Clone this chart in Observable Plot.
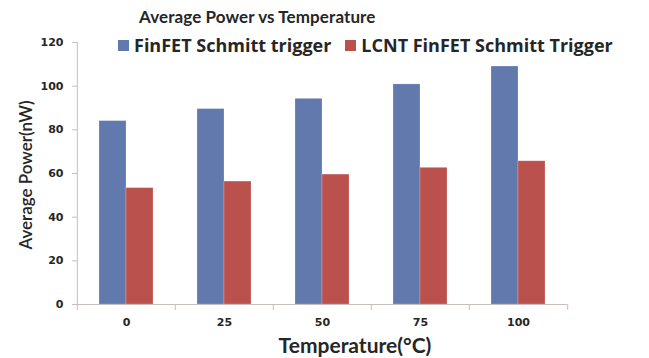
<!DOCTYPE html>
<html>
<head>
<meta charset="utf-8">
<script src="https://cdn.jsdelivr.net/npm/d3@7"></script>
<script src="https://cdn.jsdelivr.net/npm/@observablehq/plot@0.6"></script>
<style>
  html, body { margin: 0; padding: 0; background: #fff; }
  #fig { position: relative; width: 649px; height: 358px; overflow: hidden; font-family: Lato, "Open Sans", sans-serif; color: #262626; }
  #title { position: absolute; left: 139px; top: 6px; font-size: 17px; font-weight: bold; white-space: nowrap; letter-spacing: 0.1px; }
  #legend { position: absolute; left: 118px; top: 33px; display: flex; align-items: center; font-family: "Open Sans", Lato, sans-serif; font-size: 18px; font-weight: bold; white-space: nowrap; }
  #legend .item { display: flex; align-items: center; margin-right: 14px; }
  #legend .sw { width: 11px; height: 11px; margin-right: 5px; }
  #ylabel { position: absolute; left: 25px; top: 175px; transform: translate(-50%, -50%) rotate(-90deg); font-size: 17px; font-weight: 600; white-space: nowrap; }
  #xlabel { position: absolute; left: 355px; top: 344px; transform: translate(-50%, -50%); font-size: 21px; font-weight: bold; white-space: nowrap; }
  #chart { position: absolute; left: 0; top: 30px; }
</style>
</head>
<body>
<div id="fig">
  <div id="title"></div>
  <div id="chart"></div>
  <div id="legend"></div>
  <div id="ylabel"></div>
  <div id="xlabel"></div>
</div>
<script>
const titleText = "Average Power vs Temperature";
const yLabel = "Average Power(nW)";
const xLabel = "Temperature(°C)";
const temperatures = ["0", "25", "50", "75", "100"];
const seriesNames = ["FinFET Schmitt trigger", "LCNT FinFET Schmitt Trigger"];
const finfet = [84.0, 89.5, 94.2, 100.8, 109.0];
const lcntFinfet = [53.3, 56.3, 59.5, 62.6, 65.6];
const yTicks = [0, 20, 40, 60, 80, 100, 120];
const colors = ["#6279ad", "#bb514c"];

const data = [];
temperatures.forEach((t, i) => {
  data.push({temp: t, series: seriesNames[0], value: finfet[i]});
  data.push({temp: t, series: seriesNames[1], value: lcntFinfet[i]});
});

const W = 649, H = 328;
const mL = 76, mR = 81, mT = 12, mB = 54;
const step = (W - mL - mR) / temperatures.length;
const frameH = H - mT - mB;
const axisColor = "#c9bdbb";
const tickFont = "DejaVu Sans, sans-serif";

const chart = Plot.plot({
  width: W,
  height: H,
  marginLeft: mL,
  marginRight: mR,
  marginTop: mT,
  marginBottom: mB,
  style: {background: "#fff", color: "#262626"},
  fx: {domain: temperatures, padding: 0, label: null, axis: null},
  x: {domain: seriesNames, paddingInner: 0, paddingOuter: 0.78, axis: null},
  y: {domain: [0, 120], label: null},
  color: {domain: seriesNames, range: colors},
  marks: [
    Plot.barY(data, {fx: "temp", x: "series", y: "value", fill: "series", stroke: "#ffffff", strokeOpacity: 0.35, strokeWidth: 0.6}),
    Plot.axisY({ticks: yTicks, tickSize: 5, tickPadding: 9, stroke: axisColor, fontSize: 11, fontWeight: "bold", fontFamily: tickFont, fill: "#262626", label: null}),
    Plot.ruleY([0], {stroke: axisColor}),
    Plot.axisFx({anchor: "bottom", ticks: [temperatures[0]], tickSize: -frameH, text: null, dx: -step / 2, stroke: axisColor, label: null}),
    Plot.axisFx({anchor: "bottom", tickSize: 0, tickPadding: 14, fontSize: 11, fontWeight: "bold", fontFamily: tickFont, fill: "#262626", label: null}),
    Plot.axisFx({anchor: "bottom", tickSize: 6, text: null, dx: -step / 2, stroke: axisColor, label: null}),
    Plot.axisFx({anchor: "bottom", ticks: [temperatures[temperatures.length - 1]], tickSize: 6, text: null, dx: step / 2, stroke: axisColor, label: null})
  ]
});
document.getElementById("chart").appendChild(chart);

document.getElementById("title").textContent = titleText;
document.getElementById("ylabel").textContent = yLabel;
document.getElementById("xlabel").textContent = xLabel;
const legend = document.getElementById("legend");
seriesNames.forEach((s, i) => {
  const item = document.createElement("div");
  item.className = "item";
  const sw = document.createElement("div");
  sw.className = "sw";
  sw.style.background = colors[i];
  const lab = document.createElement("span");
  lab.textContent = s;
  item.appendChild(sw);
  item.appendChild(lab);
  legend.appendChild(item);
});
</script>
</body>
</html>
